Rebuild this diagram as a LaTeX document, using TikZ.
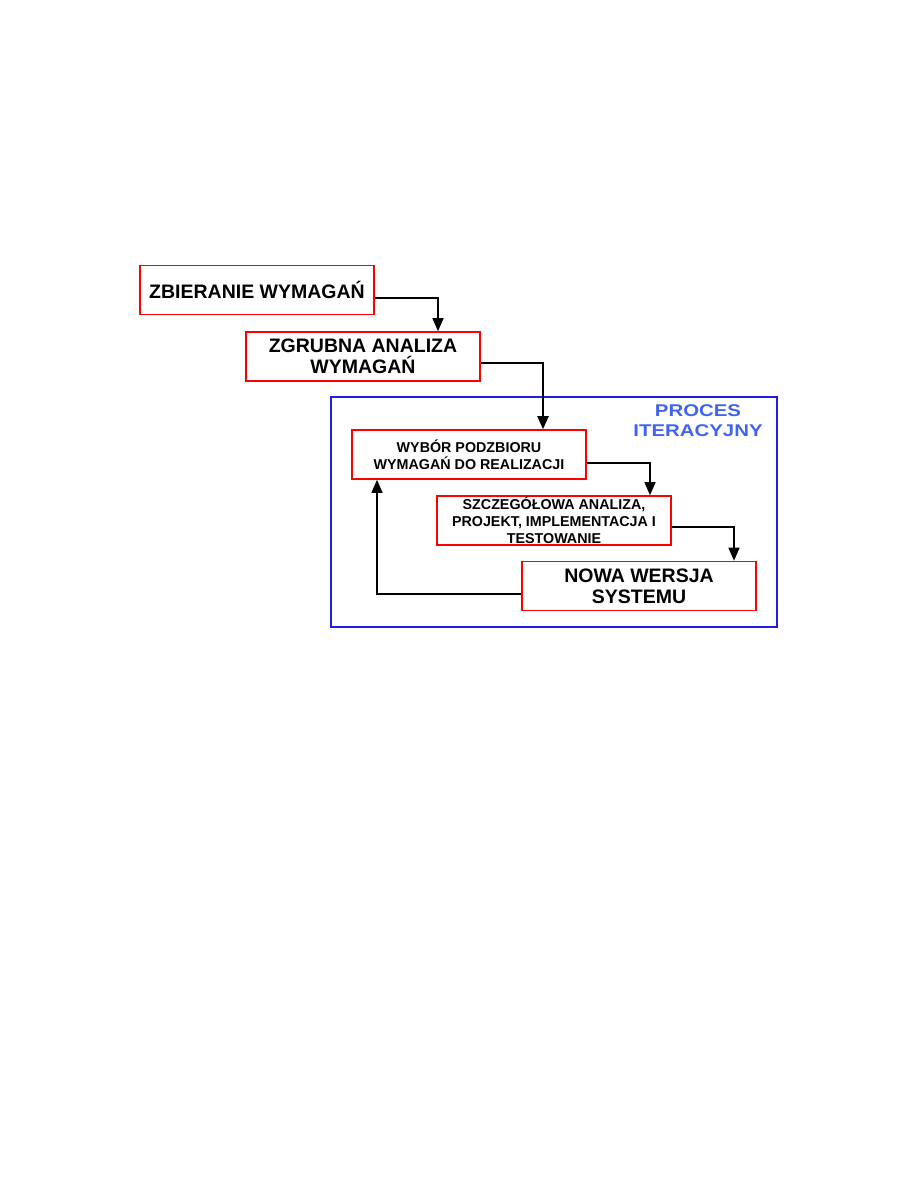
\documentclass[tikz,border=0pt]{standalone}
\usepackage{fontspec}
\setmainfont{Liberation Sans}
\newfontfamily\stretchfont[FakeStretch=1.2]{Liberation Sans}
\usetikzlibrary{arrows.meta}
\definecolor{frameblue}{RGB}{30,30,230}
\definecolor{titleblue}{RGB}{64,100,240}
\tikzset{
  x=1pt, y=-1pt,
  stepbox/.style={draw=red, line width=1.6pt, fill=white, inner sep=0pt, align=center, minimum width=234pt, minimum height=49pt},
  bigtxt/.style={font=\fontsize{19.5}{20.5}\selectfont\bfseries},
  smalltxt/.style={font=\fontsize{14.3}{17}\selectfont\bfseries},
  arr/.style={draw=black, line width=1.3pt, -{Triangle[length=13pt,width=11pt]}},
  thickarr/.style={draw=black, line width=2.2pt, -{Triangle[length=13pt,width=11pt]}},
}
\begin{document}
\begin{tikzpicture}
\useasboundingbox[fill=white] (0,0) rectangle (918,1188);
\node[draw=frameblue, line width=1.3pt, minimum width=446pt, minimum height=230pt, inner sep=0pt] (frame) at (554,512) {};
\node[text=titleblue, align=center, font=\stretchfont\fontsize{17}{20}\selectfont\bfseries, inner sep=0pt] (title) at (698,421) {PROCES\\ITERACYJNY};
\node[stepbox, bigtxt] (b1) at (257,290) {ZBIERANIE WYMAGAŃ};
\node[stepbox, bigtxt] (b2) at (363,356.5) {ZGRUBNA ANALIZA\\WYMAGAŃ};
\node[stepbox, smalltxt] (b3) at (469,454.5) {WYBÓR PODZBIORU\\WYMAGAŃ DO REALIZACJI};
\node[stepbox, smalltxt] (b4) at (554,520.5) {SZCZEGÓŁOWA ANALIZA,\\PROJEKT, IMPLEMENTACJA I\\TESTOWANIE};
\node[stepbox, bigtxt, font=\fontsize{19.5}{21}\selectfont\bfseries] (b5) at (639,586) {NOWA WERSJA\\SYSTEMU};
\draw[arr] ([yshift=-8pt]b1.east) -| ([xshift=75pt]b2.north);
\draw[thickarr] ([yshift=-6.5pt]b2.east) -| ([xshift=74pt]b3.north);
\draw[arr] ([yshift=-8.5pt]b3.east) -| ([xshift=96pt]b4.north);
\draw[arr] ([yshift=-6.5pt]b4.east) -| ([xshift=95pt]b5.north);
\draw[arr] ([yshift=-8pt]b5.west) -| ([xshift=-92pt]b3.south);
\end{tikzpicture}
\end{document}
